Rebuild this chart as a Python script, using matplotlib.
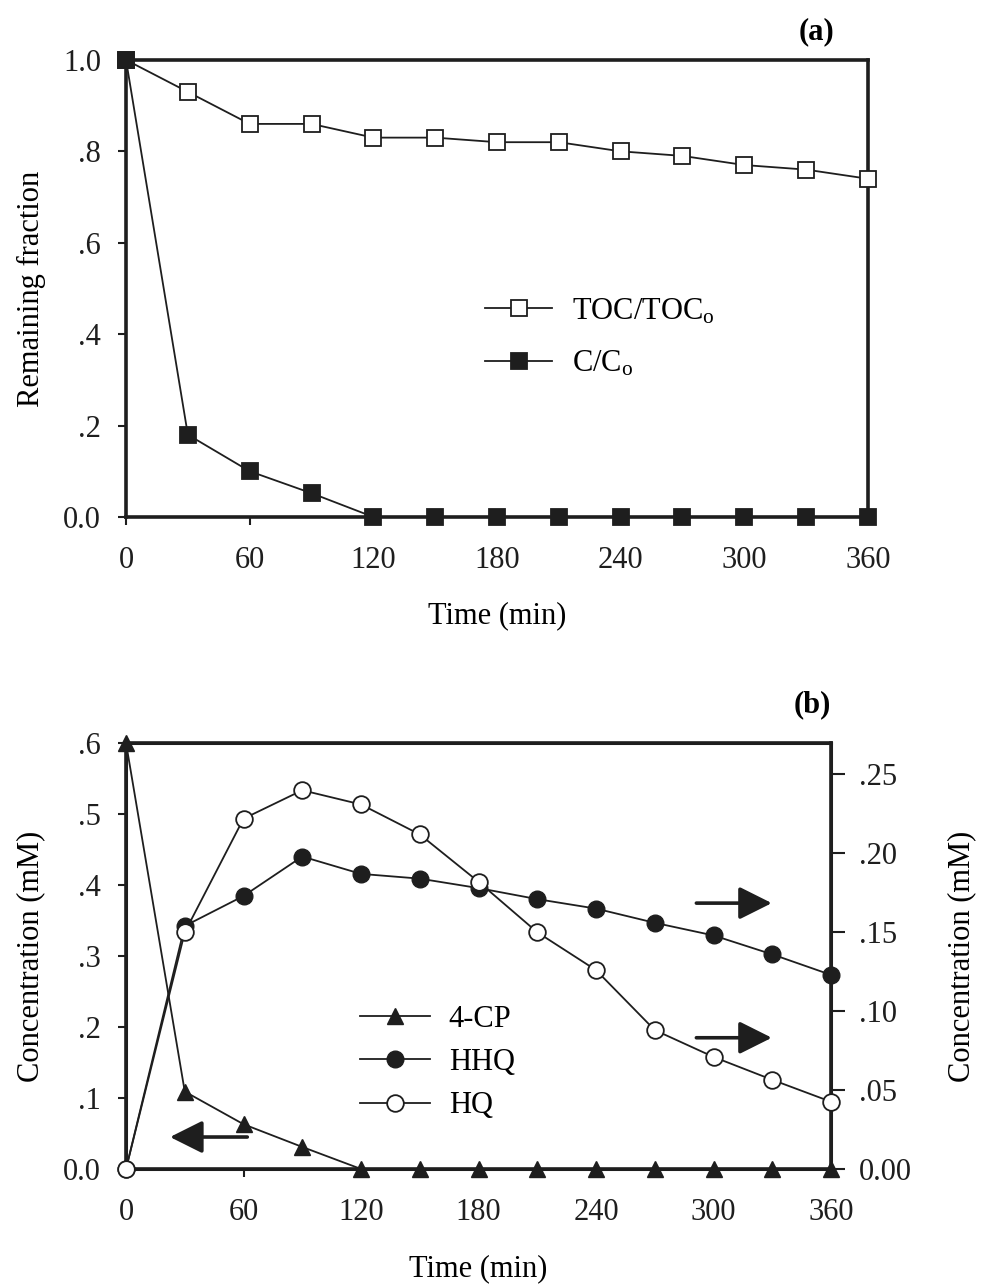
import matplotlib
matplotlib.use("Agg")
import matplotlib.pyplot as plt
from matplotlib.lines import Line2D

plt.rcParams['font.family'] = ['Liberation Serif', 'DejaVu Serif']
plt.rcParams['mathtext.fontset'] = 'custom'
plt.rcParams['mathtext.rm'] = 'Liberation Serif'
plt.rcParams['mathtext.it'] = 'Liberation Serif:italic'
plt.rcParams['font.size'] = 22

# ---- data ----
time = [0, 30, 60, 90, 120, 150, 180, 210, 240, 270, 300, 330, 360]
toc_ratio = [1.0, 0.93, 0.86, 0.86, 0.83, 0.83, 0.82, 0.82, 0.80, 0.79, 0.77, 0.76, 0.74]
c_ratio = [1.0, 0.18, 0.10, 0.052, 0, 0, 0, 0, 0, 0, 0, 0, 0]

cp4 = [0.6, 0.109, 0.063, 0.031, 0, 0, 0, 0, 0, 0, 0, 0, 0]        # left axis
hhq = [0, 0.154, 0.173, 0.198, 0.187, 0.184, 0.178, 0.171, 0.165, 0.156, 0.148, 0.136, 0.123]  # right axis
hq = [0, 0.150, 0.222, 0.240, 0.231, 0.212, 0.182, 0.150, 0.126, 0.088, 0.071, 0.0565, 0.0426]  # right axis

xticks = [0, 60, 120, 180, 240, 300, 360]
a_yticks = [0, 0.2, 0.4, 0.6, 0.8, 1.0]
a_ylabels = ['0.0', '.2', '.4', '.6', '.8', '1.0']
b_yticks = [0, 0.1, 0.2, 0.3, 0.4, 0.5, 0.6]
b_ylabels = ['0.0', '.1', '.2', '.3', '.4', '.5', '.6']
b2_yticks = [0, 0.05, 0.10, 0.15, 0.20, 0.25]
b2_ylabels = ['0.00', '.05', '.10', '.15', '.20', '.25']

ink = '#1e1e1e'
lw = 1.3

fig = plt.figure(figsize=(9.83, 12.86), dpi=100)


def style_axis(ax, thick=2.6):
    for s in ax.spines.values():
        s.set_linewidth(thick)
        s.set_color(ink)
    ax.tick_params(direction='out', length=6, width=1.5, colors=ink)
    ax.tick_params(axis='x', pad=15)
    ax.tick_params(axis='y', pad=12)


# ---------------- panel (a) ----------------
axa = fig.add_axes([0.1282, 0.598, 0.7548, 0.3554])
axa.plot(time, toc_ratio, color=ink, lw=lw, marker='s', ms=11, mfc='white',
         mec=ink, mew=1.3, clip_on=False, zorder=3, label='TOC/TOC$_\\mathrm{o}$')
axa.plot(time, c_ratio, color=ink, lw=lw, marker='s', ms=11, mfc=ink,
         mec=ink, mew=1.3, clip_on=False, zorder=4, label='C/C$_\\mathrm{o}$')
axa.set_xlim(0, 360)
axa.set_ylim(0, 1.0)
axa.set_xticks(xticks)
axa.set_yticks(a_yticks)
axa.set_yticklabels(a_ylabels)
style_axis(axa)
axa.set_xlabel('Time (min)')
axa.set_ylabel('Remaining fraction')
axa.xaxis.set_label_coords(0.5, -0.184)
axa.yaxis.set_label_coords(-0.108, 0.5)
axa.legend(loc='upper left', bbox_to_anchor=(0.484, 0.482), frameon=False,
           borderpad=0, handlelength=2.2, handletextpad=0.65, labelspacing=0.76,
           borderaxespad=0)
fig.text(817 / 983, 1 - 32 / 1286, '(a)', ha='center', va='center',
         fontweight='bold', fontsize=22)

# ---------------- panel (b) ----------------
axb = fig.add_axes([0.1282, 0.091, 0.7172, 0.3313])
axb2 = axb.twinx()
axb.plot(time, cp4, color=ink, lw=lw, marker='^', ms=11, mfc=ink, mec=ink,
         clip_on=False, zorder=3)
axb2.plot(time, hhq, color=ink, lw=lw, marker='o', ms=12, mfc=ink, mec=ink,
          clip_on=False, zorder=3)
axb2.plot(time, hq, color=ink, lw=lw, marker='o', ms=12, mfc='white', mec=ink,
          mew=1.3, clip_on=False, zorder=4)
axb.set_xlim(0, 360)
axb.set_ylim(0, 0.6)
axb2.set_ylim(0, 0.27)
axb.set_xticks(xticks)
axb.set_yticks(b_yticks)
axb.set_yticklabels(b_ylabels)
axb2.set_yticks(b2_yticks)
axb2.set_yticklabels(b2_ylabels)
style_axis(axb)
style_axis(axb2, thick=2.2)
axb2.tick_params(axis='y', length=10, pad=10)
axb.set_xlabel('Time (min)')
axb.set_ylabel('Concentration (mM)')
axb2.set_ylabel('Concentration (mM)')
axb.xaxis.set_label_coords(0.5, -0.20)
axb.yaxis.set_label_coords(-0.114, 0.5)
axb2.yaxis.set_label_coords(1.165, 0.5)

handles = [
    Line2D([], [], color=ink, lw=lw, marker='^', ms=11, mfc=ink, mec=ink),
    Line2D([], [], color=ink, lw=lw, marker='o', ms=12, mfc=ink, mec=ink),
    Line2D([], [], color=ink, lw=lw, marker='o', ms=12, mfc='white', mec=ink, mew=1.3),
]
axb2.legend(handles, ['4-CP', 'HHQ', 'HQ'], loc='upper left',
            bbox_to_anchor=(0.332, 0.386), frameon=False, borderpad=0,
            handlelength=2.3, handletextpad=0.6, labelspacing=0.47,
            borderaxespad=0)

arrow = dict(arrowstyle='-|>,head_length=1.0,head_width=0.5', lw=2.6,
             color=ink, mutation_scale=20, shrinkA=0, shrinkB=0)
axb.annotate('', xy=(0.0624, 0.075), xytext=(0.172, 0.075),
             xycoords='axes fraction', arrowprops=arrow)
axb.annotate('', xy=(0.916, 0.624), xytext=(0.809, 0.624),
             xycoords='axes fraction', arrowprops=arrow)
axb.annotate('', xy=(0.916, 0.308), xytext=(0.809, 0.308),
             xycoords='axes fraction', arrowprops=arrow)
fig.text(812 / 983, 1 - 705 / 1286, '(b)', ha='center', va='center',
         fontweight='bold', fontsize=22)

fig.savefig('out.png', dpi=100, facecolor='white')
